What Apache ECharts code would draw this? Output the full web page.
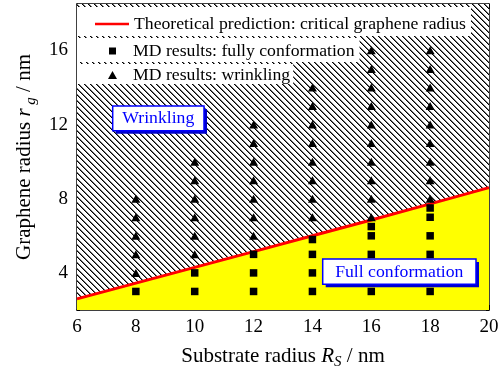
<!DOCTYPE html>
<html>
<head>
<meta charset="utf-8">
<script src="https://cdn.jsdelivr.net/npm/echarts@6/dist/echarts.min.js"></script>
<style>html,body{margin:0;padding:0;background:#fff}#c{width:504px;height:377px}</style>
</head>
<body>
<div id="c"></div>
<script>
// ---- data ----
const xTicks = [6, 8, 10, 12, 14, 16, 18, 20];
const yMajorTicks = [4, 8, 12, 16];
const yMinorTicks = [2, 6, 10, 14, 18];
const theoryX = [6, 8, 10, 12, 14, 16, 18, 20];
const theoryY = [2.6, 3.45, 4.3, 5.15, 6.0, 6.85, 7.72, 8.6];
const substrateRadii = [8, 10, 12, 14, 16, 18];
const fullConformation = [
  [3],
  [3, 4],
  [3, 4, 5],
  [3, 4, 5, 5.8],
  [3, 4, 5, 6, 6.5],
  [3, 4, 5, 6, 7, 7.5]
];
const wrinkling = [
  [4, 5, 6, 7, 8],
  [5, 6, 7, 8, 9, 10],
  [6, 7, 8, 9, 10, 11, 12],
  [7, 8, 9, 10, 11, 12, 13, 14],
  [7, 8, 9, 10, 11, 12, 13, 14, 15, 16],
  [8, 9, 10, 11, 12, 13, 14, 15, 16]
];
const nameLine = 'Theoretical prediction: critical graphene radius';
const nameFull = 'MD results: fully conformation';
const nameWrinkle = 'MD results: wrinkling';

// ---- build ----
const FONT = 'Liberation Serif';
const theoryData = theoryX.map((x, i) => [x, theoryY[i]]);
const fullData = [];
substrateRadii.forEach((r, i) => fullConformation[i].forEach(v => fullData.push([r, v])));
const wrinkleData = [];
substrateRadii.forEach((r, i) => wrinkling[i].forEach(v => wrinkleData.push([r, v])));

// hatch pattern (diagonal "\" lines)
const P = 6;
const pc = document.createElement('canvas');
pc.width = P; pc.height = P;
const pctx = pc.getContext('2d');
pctx.fillStyle = '#fff';
pctx.fillRect(0, 0, P, P);
pctx.fillStyle = '#000';
for (let i = 0; i < P; i++) {
  pctx.fillRect(i, i, 1, 1);
}
pctx.fillStyle = 'rgba(0,0,0,0.55)';
for (let i = 0; i < P; i++) {
  pctx.fillRect((i + 1) % P, i, 1, 1);
}

const chart = echarts.init(document.getElementById('c'), null, {renderer: 'canvas'});

const yBase = {
  type: 'value', min: 2, max: 18.5,
  splitLine: {show: false},
  axisLine: {show: true, lineStyle: {color: '#000', width: 1.5}},
};

const legendBase = {
  left: 77, orient: 'horizontal', selectedMode: false,
  backgroundColor: '#fff', borderWidth: 0,
  textStyle: {fontFamily: FONT, fontSize: 17.7, color: '#000'},
  itemStyle: {borderWidth: 0}
};

chart.setOption({
  animation: false,
  grid: {left: 77, right: 15, top: 4, bottom: 67},
  xAxis: [{
    type: 'value', min: 6, max: 20, interval: 2,
    splitLine: {show: false},
    axisLine: {show: true, onZero: false, lineStyle: {color: '#000', width: 1.5}},
    axisTick: {show: true, inside: true, length: 5, lineStyle: {color: '#000', width: 1}},
    axisLabel: {color: '#000', fontFamily: FONT, fontSize: 19, margin: 8},
    name: '{a|Substrate radius }{i|R}{s|S}{a| / nm}',
    nameLocation: 'middle', nameGap: 32,
    nameTextStyle: {
      rich: {
        a: {fontFamily: FONT, fontSize: 21, color: '#000', lineHeight: 28, verticalAlign: 'middle'},
        i: {fontFamily: FONT, fontSize: 21, fontStyle: 'italic', color: '#000', lineHeight: 28, verticalAlign: 'middle'},
        s: {fontFamily: FONT, fontSize: 15, fontStyle: 'italic', color: '#000', lineHeight: 12, verticalAlign: 'bottom'}
      }
    }
  }, {
    type: 'value', min: 6, max: 20, interval: 2, position: 'top',
    splitLine: {show: false},
    axisLine: {show: true, onZero: false, lineStyle: {color: '#000', width: 1.5}},
    axisTick: {show: true, inside: true, length: 5, lineStyle: {color: '#000', width: 1}},
    axisLabel: {show: false}
  }],
  yAxis: [Object.assign({}, yBase, {
    position: 'left',
    axisTick: {show: true, inside: true, length: 5, customValues: yMajorTicks, lineStyle: {color: '#000', width: 1}},
    axisLabel: {color: '#000', fontFamily: FONT, fontSize: 19, margin: 9, customValues: yMajorTicks},
    name: '{a|Graphene radius }{i|r}{s| g}{a| / nm}',
    nameLocation: 'middle', nameRotate: 90, nameGap: 32,
    nameTextStyle: {
      rich: {
        a: {fontFamily: FONT, fontSize: 21, color: '#000', lineHeight: 28, verticalAlign: 'middle'},
        i: {fontFamily: FONT, fontSize: 21, fontStyle: 'italic', color: '#000', lineHeight: 28, verticalAlign: 'middle'},
        s: {fontFamily: FONT, fontSize: 15, fontStyle: 'italic', color: '#000', lineHeight: 12, verticalAlign: 'bottom'}
      }
    }
  }), Object.assign({}, yBase, {
    position: 'left',
    axisLine: {show: false},
    axisTick: {show: true, inside: true, length: 3, customValues: yMinorTicks, lineStyle: {color: '#000', width: 1}},
    axisLabel: {show: false}
  }), Object.assign({}, yBase, {
    position: 'right',
    axisTick: {show: true, inside: true, length: 5, customValues: yMajorTicks, lineStyle: {color: '#000', width: 1}},
    axisLabel: {show: false}
  }), Object.assign({}, yBase, {
    position: 'right',
    axisLine: {show: false},
    axisTick: {show: true, inside: true, length: 3, customValues: yMinorTicks, lineStyle: {color: '#000', width: 1}},
    axisLabel: {show: false}
  })],
  legend: [
    Object.assign({}, legendBase, {
      top: 7, padding: [8, 5, 3, 18], itemWidth: 34, itemHeight: 2.5,
      data: [{name: nameLine, icon: 'rect'}]
    }),
    Object.assign({}, legendBase, {
      top: 38, padding: [4, 5, 2, 32], itemWidth: 7, itemHeight: 7,
      textStyle: Object.assign({}, legendBase.textStyle, {padding: [0, 0, 0, 12]}),
      data: [{name: nameFull, icon: 'rect'}]
    }),
    Object.assign({}, legendBase, {
      top: 64, padding: [2, 3, 0, 31], itemWidth: 9, itemHeight: 8,
      textStyle: Object.assign({}, legendBase.textStyle, {padding: [0, 0, 0, 11]}),
      data: [{name: nameWrinkle, icon: 'triangle'}]
    })
  ],
  series: [
    {
      name: '_hatch', type: 'line', data: theoryData, symbol: 'none', z: 1,
      lineStyle: {width: 0},
      areaStyle: {origin: 'end', color: {image: pc, repeat: 'repeat'}, opacity: 1}
    },
    {
      name: '_yellow', type: 'line', data: theoryData, symbol: 'none', z: 1,
      lineStyle: {width: 0},
      areaStyle: {origin: 'start', color: '#ffff00', opacity: 1}
    },
    {
      name: nameLine, type: 'line', data: theoryData, symbol: 'none', z: 3,
      color: '#ff0000',
      lineStyle: {color: '#ff0000', width: 3}
    },
    {
      name: nameFull, type: 'scatter', data: fullData, symbol: 'rect', symbolSize: 7.5, z: 4,
      itemStyle: {color: '#000', opacity: 1}
    },
    {
      name: nameWrinkle, type: 'scatter', data: wrinkleData, symbol: 'triangle', symbolSize: [9, 8], z: 4,
      itemStyle: {color: '#000', opacity: 1}
    }
  ],
  graphic: [
    {type: 'rect', z: 100, shape: {x: 115.7, y: 109, width: 91.3, height: 24.7}, style: {fill: '#0000cc'}},
    {type: 'rect', z: 101, shape: {x: 112.7, y: 106, width: 91.3, height: 24.7}, style: {fill: '#fff', stroke: '#0000ff', lineWidth: 1.5}},
    {type: 'text', z: 102, x: 158.3, y: 118.8, style: {text: 'Wrinkling', fill: '#0000ff', fontFamily: FONT, fontSize: 17.7, align: 'center', verticalAlign: 'middle'}},
    {type: 'rect', z: 100, shape: {x: 325.7, y: 262, width: 153.3, height: 25.3}, style: {fill: '#0000cc'}},
    {type: 'rect', z: 101, shape: {x: 322.7, y: 259, width: 153.3, height: 25.3}, style: {fill: '#fff', stroke: '#0000ff', lineWidth: 1.5}},
    {type: 'text', z: 102, x: 399.3, y: 272, style: {text: 'Full conformation', fill: '#0000ff', fontFamily: FONT, fontSize: 17.7, align: 'center', verticalAlign: 'middle'}}
  ]
});
</script>
</body>
</html>
